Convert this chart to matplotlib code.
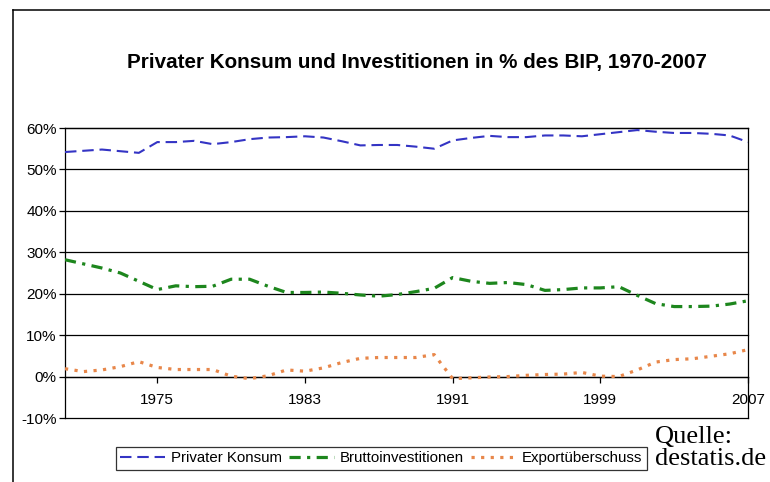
import matplotlib
matplotlib.use("Agg")
import matplotlib.pyplot as plt
from matplotlib.lines import Line2D

years = list(range(1970, 2008))

konsum = [54.2, 54.5, 54.8, 54.4, 54.0, 56.6, 56.6, 56.9, 56.1, 56.6,
          57.3, 57.7, 57.8, 58.0, 57.7, 56.8, 55.8, 55.9, 55.9, 55.5,
          55.0, 57.0, 57.6, 58.1, 57.8, 57.8, 58.2, 58.2, 58.0, 58.5,
          59.0, 59.5, 59.1, 58.8, 58.8, 58.6, 58.2, 56.6]

investitionen = [28.2, 27.2, 26.2, 25.0, 23.0, 21.0, 21.9, 21.7, 21.8, 23.5,
                 23.5, 21.8, 20.3, 20.3, 20.4, 20.1, 19.7, 19.4, 19.8, 20.5,
                 21.3, 23.9, 23.0, 22.5, 22.7, 22.2, 20.8, 21.0, 21.4, 21.4,
                 21.7, 19.6, 17.6, 16.9, 16.9, 17.0, 17.5, 18.3]

export = [1.9, 1.2, 1.6, 2.4, 3.6, 2.2, 1.7, 1.7, 1.7, 0.1,
          -0.5, 0.2, 1.6, 1.3, 2.1, 3.4, 4.4, 4.6, 4.6, 4.6,
          5.3, -0.5, -0.3, -0.1, 0.0, 0.3, 0.5, 0.6, 1.0, 0.1,
          0.0, 1.6, 3.5, 4.1, 4.3, 4.9, 5.5, 6.5]

x_ticks = [1975, 1983, 1991, 1999, 2007]
y_ticks = list(range(-10, 61, 10))

title = "Privater Konsum und Investitionen in % des BIP, 1970-2007"
labels = ["Privater Konsum", "Bruttoinvestitionen", "Exportüberschuss"]

plt.rcParams['font.family'] = ['Liberation Sans', 'DejaVu Sans']

fig = plt.figure(figsize=(7.7, 4.82), dpi=100)
ax = fig.add_axes([65 / 770, 1 - 418 / 482, 683 / 770, 290 / 482])

ax.plot(years, konsum, color='#3434c4', lw=1.5, dashes=(5.5, 2.8), label=labels[0], zorder=3)
ax.plot(years, investitionen, color='#1d861d', lw=2.3, dashes=(3.5, 2, 1, 2),
        solid_capstyle='butt', dash_capstyle='butt', label=labels[1], zorder=3)
ax.plot(years, export, color='#e8874a', lw=2.3, dashes=(1, 2),
        dash_capstyle='butt', label=labels[2], zorder=3)

ax.set_xlim(1970, 2007)
ax.set_ylim(-10, 60)
ax.set_yticks(y_ticks)
ax.set_yticklabels([f"{v}%" for v in y_ticks])
ax.set_xticks(x_ticks)
ax.set_xticklabels([str(v) for v in x_ticks])

for v in y_ticks:
    ax.axhline(v, color='black', lw=0.9, zorder=1, clip_on=False)

for side in ['left', 'right', 'top']:
    ax.spines[side].set_color('black')
    ax.spines[side].set_linewidth(0.9)
ax.spines['bottom'].set_position(('data', 0))
ax.spines['bottom'].set_linewidth(0.9)

ax.tick_params(axis='y', direction='out', length=4, width=0.9, pad=2, labelsize=11)
ax.tick_params(axis='x', direction='out', length=4, width=0.9, pad=8, labelsize=11)

fig.text(0.542, 0.871, title, ha='center', va='center', fontsize=14.9, fontweight='bold')

handles, lbls = ax.get_legend_handles_labels()
leg = fig.legend(handles, lbls, loc='center', bbox_to_anchor=(0.495, 0.049), ncol=3,
                 fontsize=10.8, handlelength=3.0, handletextpad=0.4, columnspacing=0.45,
                 frameon=True, fancybox=False, borderpad=0.3)
leg.get_frame().set_edgecolor('black')
leg.get_frame().set_linewidth(0.9)

fig.text(655 / 770, 1 - 426 / 482, "Quelle:\ndestatis.de", ha='left', va='top',
         fontsize=19, family='Liberation Serif', linespacing=1.0)

# outer frame, top and left edges only
fig.add_artist(Line2D([13 / 770, 1.0], [1 - 10 / 482, 1 - 10 / 482],
                      transform=fig.transFigure, color='black', lw=1.1))
fig.add_artist(Line2D([13 / 770, 13 / 770], [0.0, 1 - 10 / 482],
                      transform=fig.transFigure, color='black', lw=1.1))

fig.savefig("out.png", dpi=100)
